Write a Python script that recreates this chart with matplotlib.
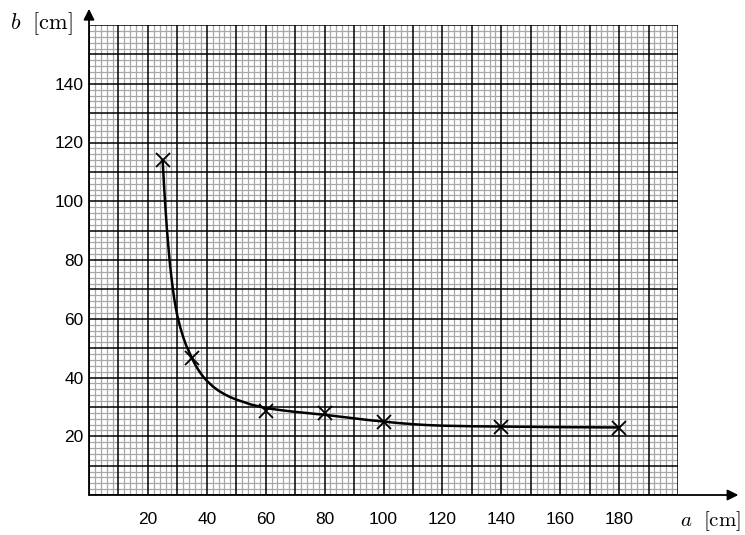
import matplotlib.pyplot as plt
import numpy as np

plt.rcParams['mathtext.fontset'] = 'cm'

# measured points (a, b) in cm
a_meas = [25, 35, 60, 80, 100, 140, 180]
b_meas = [114, 46.5, 28.7, 27.8, 24.9, 23.0, 22.9]

# hand-drawn fit curve
a_curve = [25, 25.5, 26, 26.5, 27, 27.5, 28, 28.5, 29, 29.5, 30, 31, 32, 33, 34,
           35, 36, 37, 38, 39, 40, 42, 44, 46, 48, 50, 55, 60, 65, 70, 75, 80,
           85, 90, 95, 100, 105, 110, 115, 120, 130, 140, 160, 180]
b_curve = [114, 105, 97, 90, 84, 78.5, 74, 70, 66.5, 63.5, 61, 57, 53.7, 50.9,
           48.7, 46.5, 44.5, 42.8, 41.3, 40.0, 38.9, 37.0, 35.5, 34.3, 33.3,
           32.5, 30.8, 29.6, 28.9, 28.3, 27.8, 27.3, 26.7, 26.1, 25.5, 25.0,
           24.5, 24.1, 23.8, 23.6, 23.4, 23.3, 23.1, 23.0]

x_ticks = [20, 40, 60, 80, 100, 120, 140, 160, 180]
y_ticks = [20, 40, 60, 80, 100, 120, 140]

fig = plt.figure(figsize=(7.45, 5.35), dpi=100)
ax = fig.add_axes([89 / 745, 40 / 535, 589 / 745, 470 / 535])
ax.set_xlim(0, 200)
ax.set_ylim(0, 160)

# graph paper
for v in np.arange(0, 201, 2):
    if v % 10:
        ax.axvline(v, color='#a8a8a8', lw=0.9, zorder=1)
for v in np.arange(0, 161, 2):
    if v % 10:
        ax.axhline(v, color='#a8a8a8', lw=0.9, zorder=1)
for v in range(0, 201, 10):
    ax.axvline(v, color='black', lw=1.1, zorder=2)
for v in range(0, 161, 10):
    ax.axhline(v, color='black', lw=1.1, zorder=2)

for s in ax.spines.values():
    s.set_visible(False)
ax.tick_params(length=0, labelsize=12.5)
ax.set_xticks(x_ticks)
ax.set_yticks(y_ticks)
ax.set_xticklabels([str(t) for t in x_ticks], family='Liberation Sans')
ax.set_yticklabels([str(t) for t in y_ticks], family='Liberation Sans')
ax.tick_params(axis='y', pad=4)
ax.tick_params(axis='x', pad=12)

ax.plot(a_curve, b_curve, color='black', lw=1.8, zorder=4,
        solid_capstyle='round', solid_joinstyle='round')
ax.plot(a_meas, b_meas, 'x', color='black', ms=10, mew=1.3, zorder=5)

# axis arrows
ax.annotate('', xy=(220.5, 0), xytext=(0, 0), annotation_clip=False,
            arrowprops=dict(arrowstyle='-|>', color='black', lw=1.3,
                            mutation_scale=16, shrinkA=0, shrinkB=0))
ax.annotate('', xy=(0, 165.5), xytext=(0, 0), annotation_clip=False,
            arrowprops=dict(arrowstyle='-|>', color='black', lw=1.3,
                            mutation_scale=16, shrinkA=0, shrinkB=0))

fig.text(10 / 745, 1 - 24 / 535, r'$b\ \ \mathrm{[cm]}$', fontsize=16,
         ha='left', va='center')
fig.text(741 / 745, 1 - 521 / 535, r'$a\ \ \mathrm{[cm]}$', fontsize=15,
         ha='right', va='center')

fig.savefig('out.png', dpi=100)
